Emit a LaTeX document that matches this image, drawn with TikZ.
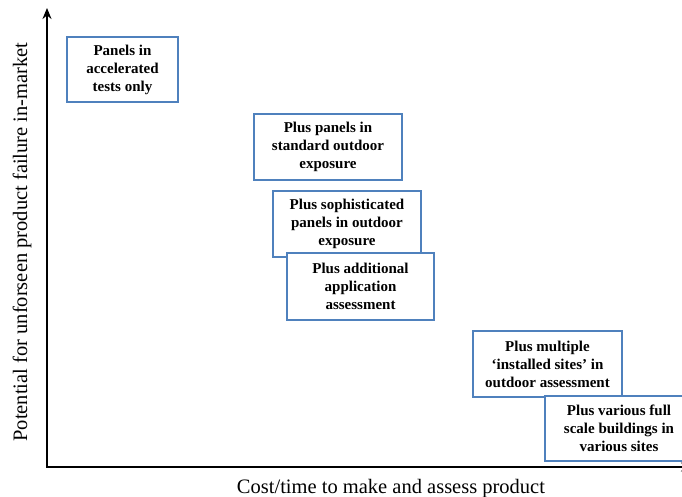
\documentclass[tikz,border=0pt]{standalone}
\usepackage{fontspec}
\setmainfont{Liberation Serif}
\usetikzlibrary{arrows.meta}
\definecolor{boxblue}{RGB}{79,129,189}
\begin{document}
\begin{tikzpicture}[x=1pt,y=-1pt,
  stagebox/.style={draw=boxblue,line width=2pt,fill=white,align=center,
    inner sep=0pt,font=\fontsize{15}{18}\selectfont\bfseries},
  axisline/.style={line width=2.6pt,line cap=rect},
  axislabel/.style={font=\fontsize{20.5}{24}\selectfont}]
\useasboundingbox (0,0) rectangle (682,497);
\coordinate (origin) at (47,467);
\coordinate (ytip) at (47,8);
\coordinate (xtip) at (692,467);
\draw[axisline,-{Stealth[length=11pt,width=9pt]}] (origin) -- (ytip);
\draw[axisline,-{Stealth[length=11pt,width=9pt]}] (origin) -- (xtip);
\node[axislabel,rotate=90] (ylab) at (22,242) {Potential for unforseen product failure in-market};
\node[axislabel] (xlab) at (391,489) {Cost/time to make and assess product};
\node[stagebox,minimum width=111pt,minimum height=65pt] (b1) at (122.5,69.5) {Panels in\\accelerated\\tests only};
\node[stagebox,minimum width=148pt,minimum height=66pt] (b2) at (328,147) {Plus panels in\\standard outdoor\\exposure};
\node[stagebox,minimum width=148pt,minimum height=66pt] (b3) at (347,224) {Plus sophisticated\\panels in outdoor\\exposure};
\node[stagebox,minimum width=147pt,minimum height=67pt] (b4) at (360.5,286.5) {Plus additional\\application\\assessment};
\node[stagebox,minimum width=149pt,minimum height=66pt] (b5) at (547.5,364) {Plus multiple\\‘installed sites’ in\\outdoor assessment};
\node[stagebox,minimum width=180pt,minimum height=65pt] (b6) at (635,428.5) {\hspace*{-32pt}\parbox{136pt}{\centering Plus various full\\scale buildings in\\various sites}};
\end{tikzpicture}
\end{document}
